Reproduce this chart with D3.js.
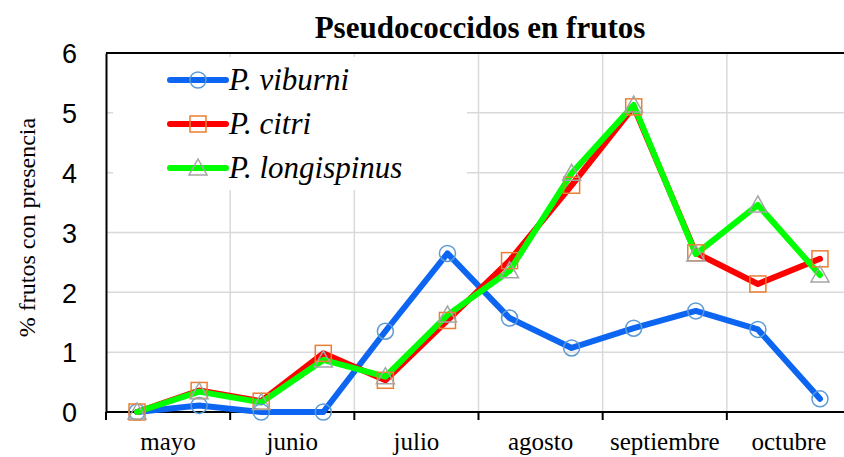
<!DOCTYPE html>
<html>
<head>
<meta charset="utf-8">
<script src="https://cdn.jsdelivr.net/npm/d3@7"></script>
<style>
  body { margin: 0; background: #fff; }
  svg { display: block; }
</style>
</head>
<body>
<script>

    var margin = {top: 53, right: -7, bottom: 45, left: 106};

    var width = 844 - margin.left - margin.right,
        height = 457 - margin.top - margin.bottom;

    var serif = "'Liberation Serif', 'Times New Roman', serif",
        sans = "'Liberation Sans', Arial, sans-serif";

    var svg = d3.select("body")
    .append("svg")
    .attr("width", 844)
    .attr("height", 457)
    .append("g")
    .attr("transform", "translate(" + margin.left + "," + margin.top + ")");

    // months on the axis, two samples per month
    var months = ["mayo", "junio", "julio", "agosto", "septiembre", "octubre"];
    var yTicks = [0, 1, 2, 3, 4, 5, 6];

    var viburni     = [0, 0.11, 0, 0, 1.35, 2.65, 1.57, 1.07, 1.40, 1.69, 1.38, 0.22];
    var citri       = [0, 0.36, 0.18, 0.98, 0.53, 1.53, 2.53, 3.79, 5.10, 2.66, 2.14, 2.56];
    var longispinus = [0, 0.34, 0.16, 0.87, 0.59, 1.62, 2.36, 3.99, 5.13, 2.64, 3.46, 2.29];

    var seriesNames = ["P. viburni", "P. citri", "P. longispinus"];

    var series = [
      {name: seriesNames[0], values: viburni, color: "#0d66f2", marker: "circle", mcolor: "#5b9bd5"},
      {name: seriesNames[1], values: citri, color: "#ff0000", marker: "square", mcolor: "#ed7d31"},
      {name: seriesNames[2], values: longispinus, color: "#00ff00", marker: "triangle", mcolor: "#a5a5a5"}
    ];

    // scales
    var xBand = d3.scaleBand()
    .domain(months)
    .range([0, width]);

    var x = d3.scaleLinear()
    .domain([0, months.length * 2])
    .range([0, width]);

    var y = d3.scaleLinear()
    .domain([0, 6])
    .range([height, 0]);

    // grid
    svg.append("g")
    .selectAll("line.hg")
    .data(yTicks.slice(1))
    .enter().append("line")
    .attr("x1", 0).attr("x2", width)
    .attr("y1", function(d) { return y(d); })
    .attr("y2", function(d) { return y(d); })
    .attr("stroke", "#d9d9d9")
    .attr("stroke-width", 1.5);

    svg.append("g")
    .selectAll("line.vg")
    .data(d3.range(1, months.length))
    .enter().append("line")
    .attr("x1", function(d) { return xBand(months[d]); })
    .attr("x2", function(d) { return xBand(months[d]); })
    .attr("y1", 0).attr("y2", height)
    .attr("stroke", "#d9d9d9")
    .attr("stroke-width", 1.5);

    // legend box covers the grid
    svg.append("rect")
    .attr("x", 7).attr("y", 4)
    .attr("width", 354).attr("height", 133)
    .attr("fill", "#fff");

    // plot border (top)
    svg.append("line")
    .attr("x1", 0).attr("x2", width)
    .attr("y1", 0).attr("y2", 0)
    .attr("stroke", "#000").attr("stroke-width", 2);

    var yAxis = d3.axisLeft(y)
    .tickValues(yTicks)
    .tickFormat(d3.format("d"))
    .tickSize(0)
    .tickPadding(29);

    var yg = svg.append("g").call(yAxis);
    yg.select(".domain").attr("stroke", "#000").attr("stroke-width", 2);
    yg.selectAll("text")
    .style("font-family", sans)
    .style("font-size", "27px")
    .attr("fill", "#000")
    .attr("dy", "0.36em");

    var xAxis = d3.axisBottom(xBand)
    .tickSize(0)
    .tickPadding(20);

    var xg = svg.append("g")
    .attr("transform", "translate(0," + height + ")")
    .call(xAxis);
    xg.select(".domain").remove();
    xg.selectAll("text")
    .style("font-family", serif)
    .style("font-size", "25px")
    .attr("fill", "#000");

    svg.append("line")
    .attr("x1", 0).attr("x2", width)
    .attr("y1", height).attr("y2", height)
    .attr("stroke", "#000").attr("stroke-width", 2);

    svg.append("g")
    .selectAll("line")
    .data(d3.range(0, months.length + 1))
    .enter().append("line")
    .attr("x1", function(d) { return x(d * 2); })
    .attr("x2", function(d) { return x(d * 2); })
    .attr("y1", height).attr("y2", height + 8)
    .attr("stroke", "#000").attr("stroke-width", 2);

    // lines
    var line = d3.line()
    .x(function(d, i) { return x(i + 0.5); })
    .y(function(d) { return y(d); });

    svg.selectAll("path.serie")
    .data(series)
    .enter().append("path")
    .attr("class", "serie")
    .attr("d", function(d) { return line(d.values); })
    .attr("fill", "none")
    .attr("stroke", function(d) { return d.color; })
    .attr("stroke-width", 6)
    .attr("stroke-linejoin", "round")
    .attr("stroke-linecap", "round");

    function drawMarker(g, type, color, cx, cy) {
      if (type === "circle") {
        g.append("circle").attr("cx", cx).attr("cy", cy).attr("r", 8)
        .attr("fill", "none").attr("stroke", color).attr("stroke-width", 1.5);
      } else if (type === "square") {
        g.append("rect").attr("x", cx - 8).attr("y", cy - 8)
        .attr("width", 16).attr("height", 16)
        .attr("fill", "none").attr("stroke", color).attr("stroke-width", 1.5);
      } else {
        g.append("path")
        .attr("d", "M" + cx + "," + (cy - 9) + "L" + (cx + 9) + "," + (cy + 7) + "L" + (cx - 9) + "," + (cy + 7) + "Z")
        .attr("fill", "none").attr("stroke", color).attr("stroke-width", 1.5);
      }
    }

    var markers = svg.append("g");
    series.forEach(function(s) {
      s.values.forEach(function(v, i) {
        drawMarker(markers, s.marker, s.mcolor, x(i + 0.5), y(v));
      });
    });

    // legend
    var legend = svg.selectAll(".legend")
    .data(series)
    .enter().append("g")
    .attr("class", "legend")
    .attr("transform", function(d, i) { return "translate(0," + (27 + i * 44) + ")"; });

    legend.append("line")
    .attr("x1", 64).attr("x2", 120)
    .attr("y1", 0).attr("y2", 0)
    .attr("stroke", function(d) { return d.color; })
    .attr("stroke-width", 6)
    .attr("stroke-linecap", "round");

    legend.each(function(d) {
      drawMarker(d3.select(this), d.marker, d.mcolor, 92, 0);
    });

    legend.append("text")
    .attr("x", 123)
    .attr("y", 0)
    .attr("dy", "0.33em")
    .style("font-family", serif)
    .style("font-style", "italic")
    .style("font-size", "31px")
    .text(function(d) { return d.name; });

    // title
    svg.append("text")
    .attr("x", 374)
    .attr("y", -15)
    .attr("text-anchor", "middle")
    .style("font-family", serif)
    .style("font-weight", "bold")
    .style("font-size", "31px")
    .text("Pseudococcidos en frutos");

    // y axis title
    svg.append("text")
    .attr("transform", "translate(-79," + (height / 2 - 5) + ") rotate(-90)")
    .attr("text-anchor", "middle")
    .attr("dy", "0.35em")
    .style("font-family", serif)
    .style("font-size", "24px")
    .text("% frutos con presencia");

</script>
</body>
</html>
